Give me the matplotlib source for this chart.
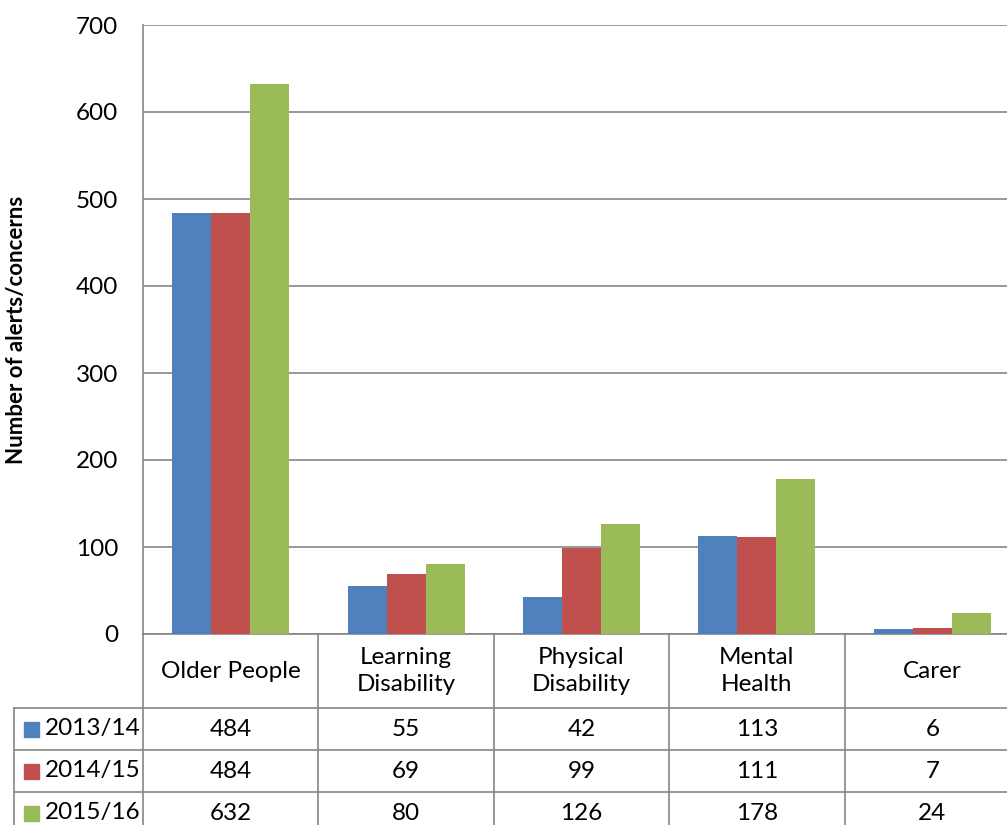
import matplotlib.pyplot as plt
import numpy as np
from matplotlib.transforms import blended_transform_factory
from matplotlib.patches import Rectangle

plt.rcParams['font.family'] = ['Lato', 'DejaVu Sans']

categories = ['Older People', 'Learning\nDisability', 'Physical\nDisability', 'Mental\nHealth', 'Carer']
years = ['2013/14', '2014/15', '2015/16']
v2013 = [484, 55, 42, 113, 6]
v2014 = [484, 69, 99, 111, 7]
v2016 = [632, 80, 126, 178, 24]
colors = ['#4F81BD', '#C0504D', '#9BBB59']
series = [v2013, v2014, v2016]

W, H = 1007, 825
fs = 17.5
fig = plt.figure(figsize=(W / 100, H / 100), dpi=100)
# plot area runs past the right edge, like the original export
ax = fig.add_axes([143 / W, 1 - 634 / H, 877 / W, 609 / H])

x = np.arange(len(categories))
bw = 0.222
for i, (vals, c) in enumerate(zip(series, colors)):
    ax.bar(x + (i - 1) * bw, vals, width=bw, color=c, zorder=3)

ax.set_xlim(-0.5, len(categories) - 0.5)
ax.set_ylim(0, 700)
ax.set_yticks(range(0, 701, 100))
ax.yaxis.grid(True, color='#868686', linewidth=1.2, zorder=0)
ax.set_xticks([])
ax.tick_params(axis='y', length=0, labelsize=fs, pad=18)
for s in ['top', 'right', 'bottom']:
    ax.spines[s].set_visible(False)
ax.spines['left'].set_color('#868686')
ax.spines['left'].set_linewidth(1.2)
ax.set_ylabel('Number of alerts/concerns', fontsize=16, fontweight='bold')
ax.yaxis.set_label_coords(-0.132, 0.5)

# data table under the axis
tr = blended_transform_factory(ax.transData, fig.transFigure)
gc = '#868686'
lw = 1.2
y_top = 1 - 634 / H
y_hdr = 1 - 708 / H
row_h = 42 / H
y_rows = [y_hdr - k * row_h for k in range(len(years) + 1)]
x_left = -0.5 - (143 - 14) / 175.4

def hline(x0, x1, y):
    ax.add_line(plt.Line2D([x0, x1], [y, y], transform=tr, color=gc, lw=lw, clip_on=False))

def vline(xx, y0, y1):
    ax.add_line(plt.Line2D([xx, xx], [y0, y1], transform=tr, color=gc, lw=lw, clip_on=False))

x_right = len(categories) - 0.5
hline(-0.5, x_right, y_top)
for y in y_rows:
    hline(x_left, x_right, y)
for b in np.arange(-0.5, len(categories), 1.0):
    vline(b, y_top, 0)
vline(x_left, y_hdr, 0)

for i, name in enumerate(categories):
    fig.text(0, 0, name, ha='center', va='center', fontsize=fs, linespacing=1.3,
             transform=tr).set_position((i, (y_top + y_hdr) / 2))

for r, (yr, vals, c) in enumerate(zip(years, series, colors)):
    yc = (y_rows[r] + y_rows[r + 1]) / 2
    fig.patches.append(Rectangle((24 / W, yc - 7.5 / H), 15 / W, 15 / H,
                                 transform=fig.transFigure, color=c))
    fig.text(45 / W, yc, yr, ha='left', va='center', fontsize=fs)
    for i, v in enumerate(vals):
        fig.text(0, 0, str(v), ha='center', va='center', fontsize=fs,
                 transform=tr).set_position((i, yc))

fig.savefig('out.png', dpi=100)
